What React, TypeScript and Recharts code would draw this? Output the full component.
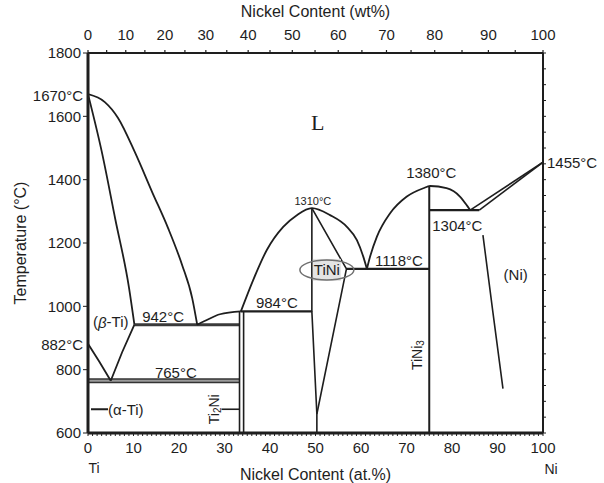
import React from "react";
import { ComposedChart, Line, XAxis, YAxis, ReferenceDot } from "recharts";

// Ti–Ni 相图:x = Ni 原子分数 (at.%),t = 温度 (°C)
const liquidusTi = [[0, 1670], [3.7, 1645], [6.6, 1595], [10.3, 1487], [14.1, 1361], [17.6, 1247], [20.7, 1130], [22.9, 1026], [24, 942]];
const solidusTi = [[0, 1670], [3, 1490], [6, 1275], [9, 1060], [10.2, 942]];
const transusLeft = [[0, 882], [2.5, 825], [5, 765]];
const transusRight = [[10.2, 942], [7.5, 855], [5, 765]];
const eutectic942 = [[10.2, 942], [33.3, 942]];
const eutectoid765 = [[0, 765], [33.3, 765]];
const ti2NiA = [[33.3, 600], [33.3, 984]];
const ti2NiB = [[34.2, 600], [34.2, 984]];
const liquidusLow = [[24, 942], [26, 956], [29, 975], [33.6, 984]];
const liquidusTiNi = [[33.6, 984], [36.3, 1083], [39.3, 1178], [42.9, 1251], [45.9, 1288], [49.2, 1310], [53.2, 1288], [56.9, 1251], [59.1, 1209], [60.5, 1157], [61.3, 1118]];
const peritectic984 = [[33.6, 984], [49.2, 984]];
const tiNiLeft = [[49.2, 1310], [49.2, 984], [50.3, 660], [50.3, 600]];
const tiNiRight = [[49.2, 1310], [56.8, 1118], [50.3, 660]];
const eutectic1118 = [[56.8, 1118], [75, 1118]];
const liquidusTiNi3 = [[61.3, 1118], [62, 1157], [63.5, 1220], [66.4, 1294], [70, 1346], [73.7, 1373], [75.2, 1380], [78.8, 1373], [81.8, 1346], [83.5, 1314], [84, 1304]];
const tiNi3Line = [[75, 600], [75, 1380]];
const eutectic1304 = [[75, 1304], [86, 1304]];
const liquidusNi = [[84, 1304], [100, 1455]];
const solidusNi = [[86, 1304], [100, 1455]];
const solvusNi = [[86.8, 1225], [89, 980], [91.2, 740]];

// 坐标轴刻度
const atTicks = [0, 10, 20, 30, 40, 50, 60, 70, 80, 90, 100];
const tempTicks = [600, 800, 1000, 1200, 1400, 1600, 1800];
const wtLabels = [0, 10, 20, 30, 40, 50, 60, 70, 80, 90, 100];
const wtAt = [0, 8.3, 16.9, 25.9, 35.2, 44.9, 55.0, 65.6, 76.2, 88.0, 100];
const wtMinorAt = [4.1, 12.5, 21.3, 30.5, 40.0, 49.9, 60.2, 71.0, 82.2, 93.9];

const INK = "#1e1e1e";
const FONT = "'Liberation Sans', Arial, sans-serif";

const pts = (a: number[][]) => a.map(([x, t]) => ({ x, t }));
const atMinor = Array.from({ length: 101 }, (_, i) => i);
const rightMinor = Array.from({ length: 25 }, (_, i) => 600 + i * 50);

const txt =
  (label: React.ReactNode, dx = 0, dy = 0, anchor = "middle", size = 15, family = FONT) =>
  (p: any) => (
    <text
      x={p.cx + dx}
      y={p.cy + dy}
      textAnchor={anchor}
      dominantBaseline="central"
      fontSize={size}
      fontFamily={family}
      fill={INK}
    >
      {label}
    </text>
  );

function seg(key: string, data: number[][], type: any = "linear", width = 1.8, color = INK) {
  return (
    <Line
      key={key}
      data={pts(data)}
      dataKey="t"
      type={type}
      stroke={color}
      strokeWidth={width}
      dot={false}
      activeDot={false}
      isAnimationActive={false}
      legendType="none"
    />
  );
}

export default function App() {
  return (
    <div style={{ position: "absolute", left: 0, top: 0, width: 604, height: 483, background: "#fff" }}>
      <ComposedChart width={604} height={483} margin={{ top: 0, right: 0, bottom: 0, left: 0 }}>
        <XAxis
          type="number"
          dataKey="x"
          domain={[0, 100]}
          ticks={atMinor}
          interval={0}
          allowDataOverflow
          tickFormatter={(v: number) => (atTicks.includes(v) ? String(v) : "")}
          tick={{ fill: INK, fontSize: 15, fontFamily: FONT }}
          tickSize={3}
          tickMargin={6}
          height={50}
          axisLine={{ stroke: INK, strokeWidth: 3 }}
          tickLine={{ stroke: INK, strokeWidth: 1 }}
          label={{ value: "Nickel Content (at.%)", position: "insideBottom", offset: 3, fill: INK, fontSize: 16, fontFamily: FONT }}
        />
        <XAxis
          xAxisId="top"
          orientation="top"
          type="number"
          dataKey="x"
          domain={[0, 100]}
          ticks={[...wtAt, ...wtMinorAt]}
          interval={0}
          allowDataOverflow
          tickFormatter={(v: number) => {
            const i = wtAt.indexOf(v);
            return i >= 0 ? String(wtLabels[i]) : "";
          }}
          tick={{ fill: INK, fontSize: 15, fontFamily: FONT }}
          tickSize={3}
          tickMargin={10}
          height={53}
          axisLine={{ stroke: INK, strokeWidth: 2 }}
          tickLine={{ stroke: INK, strokeWidth: 1.2 }}
          label={{ value: "Nickel Content (wt%)", position: "insideTop", offset: 6, fill: INK, fontSize: 16, fontFamily: FONT }}
        />
        <YAxis
          type="number"
          domain={[600, 1800]}
          ticks={tempTicks}
          interval={0}
          allowDataOverflow
          width={88}
          tick={{ fill: INK, fontSize: 15, fontFamily: FONT }}
          tickSize={5}
          tickMargin={2}
          axisLine={{ stroke: INK, strokeWidth: 3 }}
          tickLine={{ stroke: INK, strokeWidth: 1 }}
          label={{
            value: "Temperature (°C)",
            angle: -90,
            position: "insideLeft",
            offset: 20,
            fill: INK,
            fontSize: 16,
            fontFamily: FONT,
            style: { textAnchor: "middle" },
          }}
        />
        <YAxis
          yAxisId="r"
          orientation="right"
          type="number"
          domain={[600, 1800]}
          ticks={rightMinor}
          interval={0}
          allowDataOverflow
          width={61}
          tickFormatter={() => ""}
          tickSize={3}
          axisLine={{ stroke: INK, strokeWidth: 2 }}
          tickLine={{ stroke: INK, strokeWidth: 1 }}
        />

        {/* 不可见的系列:让上方 wt% 轴和右侧轴拿到刻度 */}
        <Line
          xAxisId="top"
          yAxisId="r"
          data={pts([[0, 600], [100, 1800]])}
          dataKey="t"
          stroke="none"
          dot={false}
          activeDot={false}
          isAnimationActive={false}
          legendType="none"
        />

        {seg("eut765", eutectoid765, "linear", 5, "#333")}
        {seg("eut765in", eutectoid765, "linear", 2, "#9a9a9a")}
        {seg("eut942", eutectic942, "linear", 3, "#3a3a3a")}
        {seg("liqTi", liquidusTi, "monotone")}
        {seg("solTi", solidusTi, "monotone")}
        {seg("trL", transusLeft)}
        {seg("trR", transusRight)}
        {seg("ti2NiA", ti2NiA, "linear", 1.6)}
        {seg("ti2NiB", ti2NiB, "linear", 1.6)}
        {seg("liqLow", liquidusLow, "monotone")}
        {seg("liqTiNi", liquidusTiNi, "monotone")}
        {seg("per984", peritectic984, "linear", 2.2)}
        {seg("tiNiL", tiNiLeft, "linear", 1.6)}
        {seg("tiNiR", tiNiRight, "linear", 1.6)}
        {seg("eut1118", eutectic1118, "linear", 2.2)}
        {seg("liqTiNi3", liquidusTiNi3, "monotone")}
        {seg("tiNi3", tiNi3Line, "linear", 2)}
        {seg("eut1304", eutectic1304, "linear", 2.2)}
        {seg("liqNi", liquidusNi, "linear", 1.6)}
        {seg("solNi", solidusNi, "linear", 1.6)}
        {seg("solvNi", solvusNi, "linear", 1.6)}

        <ReferenceDot x={50.5} y={1582} r={0} ifOverflow="visible" shape={txt("L", 0, 0, "middle", 22, "'Liberation Serif', 'Times New Roman', serif")} />
        <ReferenceDot x={0} y={1670} r={0} ifOverflow="visible" shape={txt("1670°C", -5, 1, "end")} />
        <ReferenceDot x={0} y={882} r={0} ifOverflow="visible" shape={txt("882°C", -5, 1, "end")} />
        <ReferenceDot x={100} y={1455} r={0} ifOverflow="visible" shape={txt("1455°C", 4, 0, "start")} />
        <ReferenceDot x={75} y={1380} r={0} ifOverflow="visible" shape={txt("1380°C", 2, -14)} />
        <ReferenceDot x={75} y={1304} r={0} ifOverflow="visible" shape={txt("1304°C", 3, 15, "start")} />
        <ReferenceDot x={49.2} y={1310} r={0} ifOverflow="visible" shape={txt("1310°C", 1, -7, "middle", 11)} />
        <ReferenceDot x={61.3} y={1118} r={0} ifOverflow="visible" shape={txt("1118°C", 8, -8, "start")} />
        <ReferenceDot x={41.5} y={984} r={0} ifOverflow="visible" shape={txt("984°C", 0, -9)} />
        <ReferenceDot x={16.5} y={942} r={0} ifOverflow="visible" shape={txt("942°C", 0, -8)} />
        <ReferenceDot x={19.3} y={765} r={0} ifOverflow="visible" shape={txt("765°C", 0, -8)} />
        <ReferenceDot
          x={5}
          y={942}
          r={0}
          ifOverflow="visible"
          shape={txt(
            <>
              (<tspan fontStyle="italic">β</tspan>-Ti)
            </>,
            0,
            -3
          )}
        />
        <ReferenceDot
          x={0}
          y={675}
          r={0}
          ifOverflow="visible"
          shape={(p: any) => (
            <g>
              <line x1={p.cx + 3} x2={p.cx + 20} y1={p.cy} y2={p.cy} stroke={INK} strokeWidth={2} />
              <text x={p.cx + 20} y={p.cy} dominantBaseline="central" fontSize={15} fontFamily={FONT} fill={INK}>
                (α-Ti)
              </text>
            </g>
          )}
        />
        <ReferenceDot
          x={33.3}
          y={675}
          r={0}
          ifOverflow="visible"
          shape={(p: any) => (
            <g>
              <line x1={p.cx - 18} x2={p.cx} y1={p.cy} y2={p.cy} stroke={INK} strokeWidth={1.6} />
              <text
                x={p.cx - 26}
                y={p.cy}
                transform={`rotate(-90 ${p.cx - 26} ${p.cy})`}
                textAnchor="middle"
                dominantBaseline="central"
                fontSize={14}
                fontFamily={FONT}
                fill={INK}
              >
                Ti<tspan fontSize={10} dy={3}>2</tspan>
                <tspan dy={-3}>Ni</tspan>
              </text>
            </g>
          )}
        />
        <ReferenceDot
          x={75}
          y={846}
          r={0}
          ifOverflow="visible"
          shape={(p: any) => (
            <text
              x={p.cx - 12}
              y={p.cy}
              transform={`rotate(-90 ${p.cx - 12} ${p.cy})`}
              textAnchor="middle"
              dominantBaseline="central"
              fontSize={14}
              fontFamily={FONT}
              fill={INK}
            >
              TiNi<tspan fontSize={10} dy={3}>3</tspan>
            </text>
          )}
        />
        <ReferenceDot x={94} y={1099} r={0} ifOverflow="visible" shape={txt("(Ni)")} />
        <ReferenceDot
          x={52.5}
          y={1115}
          r={0}
          ifOverflow="visible"
          shape={(p: any) => (
            <g>
              <rect x={p.cx - 14} y={p.cy - 11} width={28} height={22} fill="#e4e4e4" />
              <ellipse cx={p.cx} cy={p.cy} rx={27} ry={10} fill="none" stroke="#707070" strokeWidth={1.5} />
              <text x={p.cx} y={p.cy} textAnchor="middle" dominantBaseline="central" fontSize={15} fontFamily={FONT} fill={INK}>
                TiNi
              </text>
            </g>
          )}
        />
        <ReferenceDot x={0} y={600} r={0} ifOverflow="visible" shape={txt("Ti", 6, 35, "middle", 14)} />
        <ReferenceDot x={100} y={600} r={0} ifOverflow="visible" shape={txt("Ni", 8, 36, "middle", 14)} />
      </ComposedChart>
    </div>
  );
}
